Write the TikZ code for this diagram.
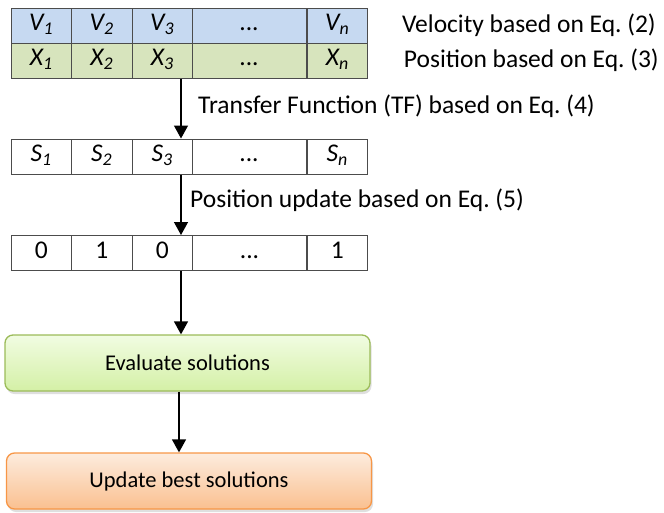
\documentclass[tikz,border=0pt]{standalone}
\usepackage{fontspec}
\setmainfont{Carlito}
\usetikzlibrary{arrows.meta,shadows}
\frenchspacing
\definecolor{vblue}{RGB}{198,217,241}
\definecolor{xgreen}{RGB}{215,228,189}
\definecolor{evtop}{RGB}{241,252,226}
\definecolor{evbot}{RGB}{212,240,166}
\definecolor{evline}{RGB}{155,187,89}
\definecolor{uptop}{RGB}{253,236,222}
\definecolor{upbot}{RGB}{250,192,144}
\definecolor{upline}{RGB}{247,150,70}
\newcommand\cellvar[2]{\textit{#1\textsubscript{#2}}}
\tikzset{
  cell/.style={draw=black!70, line width=1pt, minimum height=35pt, inner sep=0pt,
    text height=12pt, text depth=2pt,
    font=\fontsize{25.5}{28}\selectfont},
  w60/.style={minimum width=60.5pt},
  wwide/.style={minimum width=114pt},
  flow/.style={-{Triangle[width=14pt,length=13pt]}, line width=1.4pt},
  note/.style={font=\fontsize{25.5}{28}\selectfont, inner sep=0pt},
  stepbox/.style={rounded corners=8pt, line width=1.3pt, minimum width=365pt,
    minimum height=56pt, font=\fontsize{22.5}{26}\selectfont,
    drop shadow={opacity=0.25, shadow xshift=1.5pt, shadow yshift=-3pt}},
}
\begin{document}
\begin{tikzpicture}[x=1pt,y=-1pt]
\useasboundingbox (0,0) rectangle (664,512);

% velocity row
\node[cell,w60,fill=vblue]   (v1) at (41.25,25.5)  {\cellvar{V}{1}};
\node[cell,w60,fill=vblue]   (v2) at (101.75,25.5) {\cellvar{V}{2}};
\node[cell,w60,fill=vblue]   (v3) at (162.25,25.5) {\cellvar{V}{3}};
\node[cell,wwide,fill=vblue] (v4) at (249.5,25.5)  {\textit{...}};
\node[cell,w60,fill=vblue]   (v5) at (337.25,25.5) {\cellvar{V}{n}};
% position row
\node[cell,w60,fill=xgreen]   (x1) at (41.25,60.5)  {\cellvar{X}{1}};
\node[cell,w60,fill=xgreen]   (x2) at (101.75,60.5) {\cellvar{X}{2}};
\node[cell,w60,fill=xgreen]   (x3) at (162.25,60.5) {\cellvar{X}{3}};
\node[cell,wwide,fill=xgreen] (x4) at (249.5,60.5)  {\textit{...}};
\node[cell,w60,fill=xgreen]   (x5) at (337.25,60.5) {\cellvar{X}{n}};
% transfer function row
\node[cell,w60]   (s1) at (41.25,156.5)  {\cellvar{S}{1}};
\node[cell,w60]   (s2) at (101.75,156.5) {\cellvar{S}{2}};
\node[cell,w60]   (s3) at (162.25,156.5) {\cellvar{S}{3}};
\node[cell,wwide] (s4) at (249.5,156.5)  {\textit{...}};
\node[cell,w60]   (s5) at (337.25,156.5) {\cellvar{S}{n}};
% binary row
\node[cell,w60]   (b1) at (41.25,253)  {0};
\node[cell,w60]   (b2) at (101.75,253) {1};
\node[cell,w60]   (b3) at (162.25,253) {0};
\node[cell,wwide] (b4) at (249.5,253)  {...};
\node[cell,w60]   (b5) at (337.25,253) {1};

% row labels
\node[note,anchor=east] (lv) at (656,25) {Velocity based on Eq. (2)};
\node[note,anchor=east] (lx) at (659,60) {Position based on Eq. (3)};
\node[note,anchor=west] (ltf) at (198,106) {Transfer Function (TF) based on Eq. (4)};
\node[note,anchor=west] (lpu) at (190,200) {Position update based on Eq. (5)};

% process boxes
\node[stepbox, draw=evline, top color=evtop, bottom color=evbot] (eval) at (187.5,363) {Evaluate solutions};
\node[stepbox, draw=upline, top color=uptop, bottom color=upbot] (upd) at (189,481) {Update best solutions};

% connectors
\coordinate (ax) at (181,0);
\coordinate (bx) at (179,0);
\draw[flow] (x3.south -| ax) -- (s3.north -| ax);
\draw[flow] (s3.south -| ax) -- (b3.north -| ax);
\draw[flow] (b3.south -| ax) -- (eval.north -| ax);
\draw[flow] (eval.south -| bx) -- (upd.north -| bx);
\end{tikzpicture}
\end{document}
